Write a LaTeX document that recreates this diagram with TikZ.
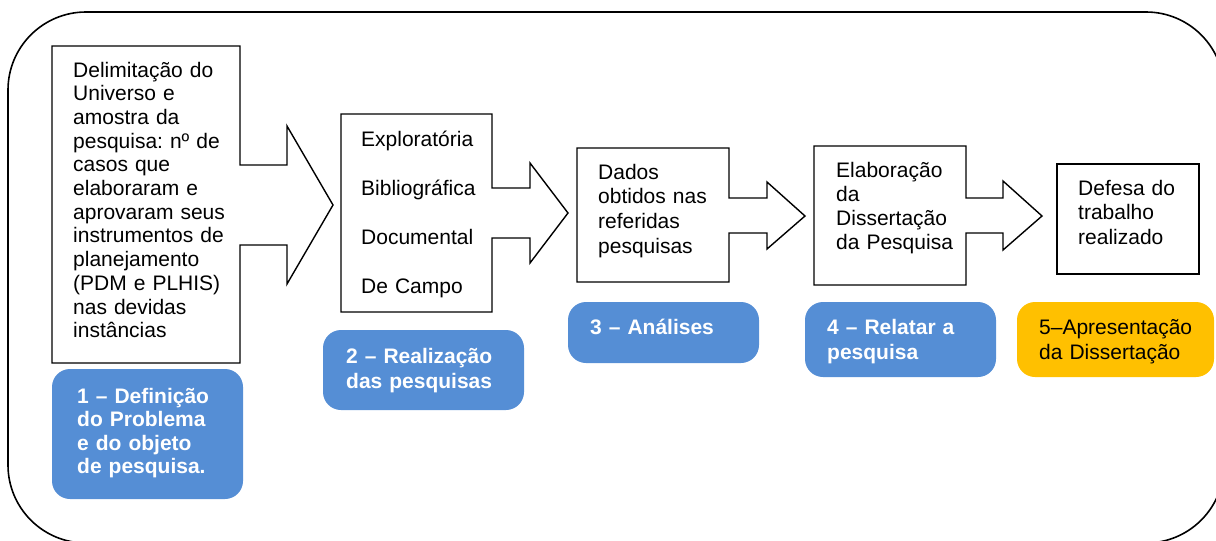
\documentclass[tikz,border=0pt]{standalone}
\usepackage{fontspec}
\setmainfont{Liberation Sans}
\definecolor{lblue}{HTML}{558ED5}
\definecolor{lorange}{HTML}{FFC000}
\frenchspacing
\begin{document}
\begin{tikzpicture}[x=1pt,y=-1pt,
  callout/.style={draw=black, line width=1.4pt, line join=miter, fill=white},
  frame/.style={draw=black, line width=1.6pt, rounded corners=78pt},
  label/.style={fill=#1, draw=none, rounded corners=18pt},
  txt/.style={anchor=base west, inner sep=0pt, text width=260pt, align=left,
    font=\frenchspacing\fontsize{21}{#1}\selectfont},
  btxt/.style={anchor=base west, inner sep=0pt, text width=260pt, align=left,
    text=white, font=\frenchspacing\bfseries\fontsize{21}{#1}\selectfont}]
\useasboundingbox (0,0) rectangle (1216,541);
\clip (0,0) rectangle (1216,541);
% outer frame
\draw[frame] (8,12) rectangle (1224,543);
% callout boxes
\draw[callout] (52,46) -- (240,46) -- (240,165) -- (287,165) -- (287,126) -- (333,205)
  -- (287,284) -- (287,245) -- (240,245) -- (240,363) -- (52,363) -- cycle;
\draw[callout] (341,114) -- (492,114) -- (492,188) -- (530,188) -- (530,163) -- (568,213)
  -- (530,263) -- (530,238) -- (492,238) -- (492,312) -- (341,312) -- cycle;
\draw[callout] (577,148) -- (729,148) -- (729,198) -- (767,198) -- (767,182) -- (805,216)
  -- (767,249) -- (767,233) -- (729,233) -- (729,282) -- (577,282) -- cycle;
\draw[callout] (814,146) -- (966,146) -- (966,198) -- (1003,198) -- (1003,181) -- (1042,216)
  -- (1003,250) -- (1003,233) -- (966,233) -- (966,285) -- (814,285) -- cycle;
\draw[callout] (1057,164) rectangle (1199,274);
% box texts
\node[txt=23.7] (t1) at (73,77) {Delimitação do\\Universo e\\amostra da\\pesquisa: nº de\\casos que\\elaboraram e\\aprovaram seus\\instrumentos de\\planejamento\\(PDM e PLHIS)\\nas devidas\\instâncias};
\node[txt=49.2] (t2) at (361,146) {Exploratória\\Bibliográfica\\Documental\\De Campo};
\node[txt=24.7] (t3) at (598,179) {Dados\\obtidos nas\\referidas\\pesquisas};
\node[txt=24.2] (t4) at (836,177) {Elaboração\\da\\Dissertação\\da Pesquisa};
\node[txt=24.5] (t5) at (1078,195) {Defesa do\\trabalho\\realizado};
% labels
\fill[label=lblue] (52,369) rectangle (243,499);
\fill[label=lblue] (323,330) rectangle (524,410);
\fill[label=lblue] (568,302) rectangle (759,363);
\fill[label=lblue] (805,302) rectangle (996,377);
\fill[label=lorange] (1017,302) rectangle (1214,377);
\node[btxt=23.6] (l1) at (77,403) {1 – Definição\\do Problema\\e do objeto\\de pesquisa.};
\node[btxt=25] (l2) at (346,363) {2 – Realização\\das pesquisas};
\node[btxt=25] (l3) at (590,334) {3 – Análises};
\node[btxt=25] (l4) at (827,334) {4 – Relatar a\\pesquisa};
\node[txt=25] (l5) at (1039,334) {5–Apresentação\\da Dissertação};
\end{tikzpicture}
\end{document}
